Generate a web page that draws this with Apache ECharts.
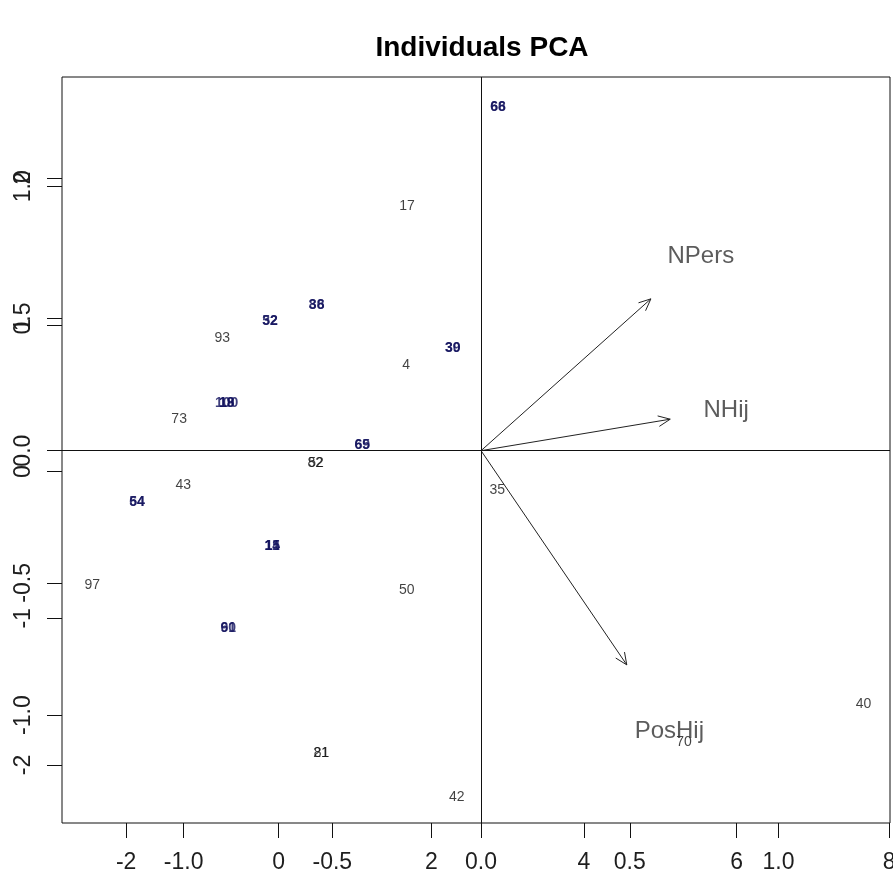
<!DOCTYPE html>
<html>
<head>
<meta charset="utf-8">
<script src="https://cdn.jsdelivr.net/npm/echarts@6/dist/echarts.min.js"></script>
<style>
  html, body { margin: 0; padding: 0; background: #fff; }
  #chart { width: 893px; height: 885px; }
</style>
</head>
<body>
<div id="chart"></div>
<script>
// Individuals (scores) on the first two principal components
const indNames = ['66', '68', '17', '32', '52', '38', '86', '93', '4', '30', '39',
  '100', '18', '19', '73', '65', '69', '82', '52', '43', '54', '64', '97',
  '11', '14', '15', '50', '60', '91', '21', '81', '42', '35', '70', '40'];
const indX = [2.874, 2.874, 1.682, -0.114, -0.114, 0.497, 0.497, -0.739, 1.669, 2.280, 2.280,
  -0.682, -0.682, -0.682, -1.305, 1.096, 1.096, 0.480, 0.490, -1.250, -1.857, -1.857, -2.443,
  -0.084, -0.084, -0.084, 1.677, -0.661, -0.661, 0.554, 0.560, 2.333, 2.865, 5.312, 7.662];
const indY = [2.486, 2.486, 1.811, 1.027, 1.027, 1.136, 1.136, 0.912, 0.727, 0.841, 0.841,
  0.470, 0.470, 0.470, 0.357, 0.181, 0.181, 0.057, 0.057, -0.095, -0.206, -0.206, -0.772,
  -0.506, -0.506, -0.506, -0.806, -1.070, -1.070, -1.920, -1.920, -2.219, -0.125, -1.847, -1.584];

// Variable loadings (arrows) and where their names are written
const varNames = ['NPers', 'NHij', 'PosHij'];
const varX = [0.571, 0.636, 0.490];
const varY = [0.574, 0.119, -0.810];
const varLabelX = [0.739, 0.824, 0.633];
const varLabelY = [0.733, 0.154, -1.060];

// Tick marks for the two overlaid coordinate systems
const indXTicks = [-2, 0, 2, 4, 6, 8];
const indYTicks = [-2, -1, 0, 1, 2];
const varTicks = [-1.0, -0.5, 0.0, 0.5, 1.0];

const FONT = '"Liberation Sans Narrow", "Liberation Sans", Arial, sans-serif';
const LABEL_COLOR = '#1e1e1e';

// Individuals stacked on identical coordinates print on top of each other
const key = (i) => indX[i] + ',' + indY[i];
const counts = {};
indNames.forEach((_, i) => { counts[key(i)] = (counts[key(i)] || 0) + 1; });

const indData = indNames.map((n, i) => {
  const stacked = counts[key(i)] > 1;
  return {
    name: n,
    value: [indX[i], indY[i]],
    label: stacked
      ? { color: '#10105c', fontWeight: 'bold' }
      : { color: '#111', fontWeight: 'normal' }
  };
});

const varArrowData = varNames.map((n, i) => ({ name: n, value: [varX[i], varY[i]] }));
const varLabelData = varNames.map((n, i) => ({ name: n, value: [varLabelX[i], varLabelY[i]] }));

function tickAxis(min, max, ticks, fmt, extra, labelExtra) {
  return Object.assign({
    type: 'value',
    min: min,
    max: max,
    axisLine: { show: false, onZero: false },
    splitLine: { show: false },
    axisTick: { show: true, customValues: ticks, length: 15, lineStyle: { color: '#111', width: 1 } },
    axisLabel: Object.assign({
      show: true, customValues: ticks, formatter: fmt,
      fontFamily: FONT, fontSize: 23, color: LABEL_COLOR, margin: 28
    }, labelExtra || {})
  }, extra);
}

const intFmt = (v) => String(v);
const decFmt = (v) => Number(v).toFixed(1);

const option = {
  animation: false,
  backgroundColor: '#fff',
  title: {
    text: 'Individuals PCA',
    left: 477,
    top: 29,
    textAlign: 'center',
    textStyle: { fontFamily: '"Liberation Sans", Arial, sans-serif', fontWeight: 'bold', fontSize: 28, color: '#000' }
  },
  grid: {
    left: 62, top: 77, width: 828, height: 746,
    containLabel: false,
    outerBoundsMode: 'none',
    show: true, borderColor: '#111', borderWidth: 1, backgroundColor: 'transparent'
  },
  xAxis: [
    tickAxis(-2.84, 8.01, indXTicks, intFmt, { position: 'bottom' }),
    tickAxis(-1.409, 1.375, varTicks, decFmt, { position: 'bottom' })
  ],
  yAxis: [
    tickAxis(-2.395, 2.69, indYTicks, intFmt, { position: 'left' }, { rotate: 90, margin: 27 }),
    tickAxis(-1.408, 1.413, varTicks, decFmt, { position: 'left' }, { rotate: 90, margin: 27 })
  ],
  series: [
    {
      name: 'individuals',
      type: 'scatter',
      xAxisIndex: 0, yAxisIndex: 0,
      symbolSize: 0,
      data: indData,
      label: {
        show: true, position: 'inside', formatter: '{b}',
        fontFamily: FONT, fontSize: 14
      },
      emphasis: { disabled: true }
    },
    {
      name: 'loadings',
      type: 'custom',
      xAxisIndex: 1, yAxisIndex: 1,
      data: varArrowData,
      renderItem: function (params, api) {
        const o = api.coord([0, 0]);
        const t = api.coord([api.value(0), api.value(1)]);
        const a = Math.atan2(t[1] - o[1], t[0] - o[0]);
        const L = 13, s = 0.42;
        const h1 = [t[0] - L * Math.cos(a - s), t[1] - L * Math.sin(a - s)];
        const h2 = [t[0] - L * Math.cos(a + s), t[1] - L * Math.sin(a + s)];
        const style = { stroke: '#222', lineWidth: 1, fill: null };
        return {
          type: 'group',
          children: [
            { type: 'polyline', shape: { points: [o, t] }, style: style },
            { type: 'polyline', shape: { points: [h1, t, h2] }, style: style }
          ]
        };
      },
      markLine: {
        silent: true,
        symbol: ['none', 'none'],
        label: { show: false },
        lineStyle: { color: '#111', width: 1, type: 'solid' },
        data: [{ xAxis: 0 }, { yAxis: 0 }]
      }
    },
    {
      name: 'variable names',
      type: 'scatter',
      xAxisIndex: 1, yAxisIndex: 1,
      symbolSize: 0,
      data: varLabelData,
      label: {
        show: true, position: 'inside', formatter: '{b}',
        fontFamily: '"Liberation Sans", Arial, sans-serif', fontSize: 24, color: '#333'
      },
      emphasis: { disabled: true }
    }
  ]
};

const chart = echarts.init(document.getElementById('chart'), null, { renderer: 'canvas' });
chart.setOption(option);
</script>
</body>
</html>
